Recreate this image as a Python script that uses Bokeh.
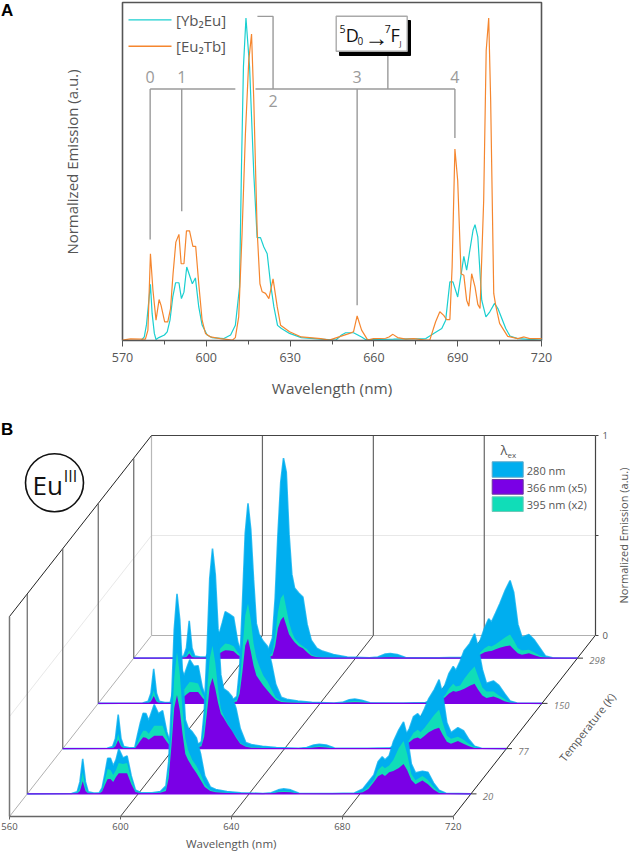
from math import pi
from bokeh.embed import file_html
from bokeh.resources import INLINE
from bokeh.plotting import figure
from bokeh.layouts import column
from bokeh.models import (Range1d, LinearAxis, FixedTicker, Label)
from bokeh.core.properties import value

FONT = "Open Sans"
TXT = "#555555"

# ---------- Panel A data ----------
yb2eu_x = [570,576.7,577.8,578.6,580,580.6,581.4,582,583,585,586,587,588,589,590.2,591.1,592,593,595,596.1,597.3,598.5,600.3,602,606.3,608.7,610.4,611.9,612.6,613.3,614.2,615.5,617,618.2,619.4,620.6,621.8,623,624.2,625.5,626.9,629.8,634,641,646.3,648.4,649.9,652.7,655.6,657,667,678.6,681.4,684.3,685.7,687.2,688.3,690,692.2,693.2,695.5,696.2,697.2,698.6,700.1,701.5,703.2,704.4,707.2,708.7,711.5,720]
yb2eu_y = [0,0,.011,.05,.174,.084,.022,.003,.009,.017,.027,.063,.135,.179,.179,.13,.15,.228,.176,.194,.104,.048,.017,.009,.006,.017,.047,.166,.54,.85,1.0,.847,.517,.319,.319,.29,.269,.176,.104,.047,.037,.022,.009,.004,.001,.017,.024,.024,.011,.003,.004,.006,.022,.037,.063,.182,.182,.135,.261,.218,.342,.359,.321,.125,.073,.089,.115,.099,.037,.014,.006,.001]
eu2tb_x = [570,572.9,576.4,578.2,579.1,580,580.9,582,583.1,583.8,585.1,586.2,587.2,588.1,589.1,590.2,591,592,592.9,594,595.2,596.2,597.3,598.5,599.7,601.5,605,609.3,610.4,611.6,612.8,614,615.2,616.2,617,618.2,619.2,620,621.2,622.4,623.9,625.4,626.6,629.8,634,641,644,651.3,652.7,654,655.6,657.8,659.9,664.2,665.4,666.8,668.5,671.4,674.2,678.6,680,682.1,683.6,685,686,687.2,688,689,690,691.2,692.2,693.2,694,695,696.2,697.2,698,699.3,700.2,701.1,701.8,702.9,703.6,705,706.5,707.9,711.5,713.8,715.8,720]
eu2tb_y = [.001,.005,.004,.004,.032,.269,.156,.063,.127,.109,.058,.058,.099,.207,.305,.329,.238,.238,.34,.34,.292,.292,.176,.063,.022,.011,.006,.001,.009,.073,.331,.64,.868,.95,.744,.342,.176,.151,.146,.13,.191,.104,.047,.027,.011,.006,.001,.022,.027,.076,.032,.001,.006,.007,.011,.019,.009,.004,.006,.001,.001,.058,.089,.078,.065,.065,.228,.594,.496,.207,.202,.125,.106,.207,.166,.112,.099,.434,.899,1.0,.744,.146,.109,.053,.032,.013,.006,.011,.006,.006]
a_ticks = [570,600,630,660,690,720]
a_minor = [585,615,645,675,705]
a_peaks_x = [579.9,591.2,654,689]
a_peaks_low = [.313,.401,.109,.628]
a_peak_names = ["0","1","3","4"]
a_series = ["[Yb₂Eu]","[Eu₂Tb]"]

# ---------- Panel B data ----------
wave = [560,576,578,579,580,581,582,584,586,
        587,588,589,590,591,592,593,594.5,596,597.5,599,601,
        605,608,610,611,612,613,614,615,616,617,618,619.5,621,622.5,624,626,628,632,637,
        645,648,650.5,652.5,655,658,
        670,678,681,683,685,686.5,688,689,690.5,692,694,695.7,697,698.5,700,702.5,704.5,706.5,708.5,711,720]
r20_280 = [0,.002,.01,.06,.175,.06,.01,.004,.006,
           .03,.1,.178,.178,.14,.17,.225,.18,.19,.09,.02,.006,
           .006,.012,.04,.16,.45,.82,1.0,.87,.6,.37,.33,.31,.28,.2,.09,.035,.022,.012,.006,
           .002,.006,.02,.025,.02,.003,
           .002,.004,.025,.06,.095,.16,.185,.17,.19,.26,.32,.36,.29,.15,.105,.113,.108,.055,.018,.003,0]
r20_395 = [0,0,.004,.03,.108,.03,.005,.002,.003,
           .02,.07,.125,.12,.095,.12,.155,.15,.155,.075,.015,.004,
           .004,.008,.025,.12,.3,.58,.71,.6,.42,.28,.22,.17,.14,.1,.05,.02,.012,.006,.003,
           .001,.003,.012,.015,.012,.002,
           .001,.003,.012,.035,.07,.12,.14,.128,.142,.17,.23,.265,.2,.1,.068,.09,.07,.035,.01,.002,0]
r20_366 = [0,0,.002,.015,.063,.015,.002,.001,.002,
           .012,.045,.075,.075,.06,.085,.103,.103,.103,.05,.01,.003,
           .003,.006,.015,.08,.24,.43,.495,.42,.3,.2,.17,.135,.105,.07,.035,.014,.008,.004,.002,
           .001,.002,.008,.01,.008,.001,
           .001,.002,.008,.025,.06,.088,.1,.09,.108,.115,.13,.15,.12,.07,.048,.067,.048,.022,.005,.001,0]
r77_280 = [0,.002,.01,.05,.17,.05,.01,.004,.006,
           .07,.13,.177,.175,.14,.18,.22,.175,.19,.085,.02,.006,
           .006,.012,.035,.18,.48,.85,1.0,.87,.6,.37,.3,.285,.26,.2,.1,.03,.02,.012,.006,
           .002,.006,.018,.022,.018,.003,
           .002,.004,.02,.05,.1,.16,.175,.157,.2,.25,.295,.345,.27,.13,.08,.105,.09,.045,.012,.002,0]
r77_395 = [0,0,.003,.02,.073,.02,.003,.001,.002,
           .03,.065,.09,.09,.075,.095,.115,.115,.115,.06,.012,.003,
           .003,.007,.02,.1,.28,.45,.515,.43,.3,.2,.165,.125,.09,.06,.03,.012,.008,.004,.002,
           .001,.003,.01,.013,.01,.002,
           .001,.003,.01,.025,.045,.08,.095,.082,.105,.132,.17,.195,.13,.065,.05,.06,.045,.023,.007,.001,0]
r77_366 = [0,0,.002,.012,.043,.012,.002,.001,.001,
           .02,.04,.057,.055,.045,.055,.065,.065,.065,.035,.008,.002,
           .002,.005,.012,.06,.18,.31,.353,.3,.23,.175,.155,.12,.09,.055,.025,.009,.005,.003,.001,
           .001,.002,.006,.008,.006,.001,
           .001,.002,.007,.018,.032,.05,.056,.048,.065,.082,.097,.105,.07,.035,.024,.038,.025,.012,.003,.001,0]
r150_280 = [0,.002,.01,.05,.173,.05,.01,.004,.006,
            .065,.125,.17,.17,.14,.18,.218,.185,.188,.08,.02,.006,
            .006,.012,.035,.18,.5,.85,1.0,.87,.62,.4,.345,.31,.285,.2,.095,.03,.02,.012,.006,
            .002,.005,.018,.022,.016,.003,
            .002,.004,.02,.05,.09,.15,.185,.165,.21,.265,.3,.348,.28,.17,.1,.112,.09,.05,.012,.002,0]
r150_395 = [0,0,.003,.018,.065,.018,.003,.001,.002,
            .025,.06,.085,.085,.07,.09,.107,.105,.1,.05,.012,.003,
            .003,.007,.02,.09,.27,.44,.5,.42,.3,.23,.19,.14,.11,.07,.03,.012,.008,.004,.002,
            .001,.003,.01,.012,.009,.002,
            .001,.003,.01,.025,.04,.075,.098,.085,.09,.123,.16,.185,.135,.08,.06,.06,.04,.022,.006,.001,0]
r150_366 = [0,0,.001,.01,.037,.01,.001,.001,.001,
            .013,.03,.045,.045,.035,.047,.057,.057,.057,.03,.006,.002,
            .002,.004,.01,.05,.16,.29,.323,.26,.19,.14,.12,.09,.065,.04,.018,.007,.004,.002,.001,
            .001,.002,.005,.006,.005,.001,
            .001,.002,.006,.015,.03,.05,.062,.058,.065,.073,.088,.098,.068,.04,.027,.035,.025,.011,.003,.001,0]
r298_280 = [0,.002,.01,.05,.187,.05,.01,.005,.006,
            .03,.075,.12,.13,.13,.18,.232,.22,.205,.08,.018,.006,
            .006,.02,.1,.3,.62,.88,1.0,.93,.62,.42,.35,.325,.305,.17,.09,.05,.035,.018,.006,
            .002,.006,.02,.023,.018,.003,
            .002,.004,.012,.04,.09,.15,.197,.18,.225,.272,.34,.388,.33,.17,.105,.118,.09,.05,.01,.002,0]
r298_395 = [0,0,.002,.012,.04,.012,.002,.001,.001,
            .012,.03,.042,.045,.045,.06,.073,.07,.06,.028,.007,.002,
            .002,.006,.025,.11,.23,.3,.32,.25,.18,.132,.1,.075,.06,.045,.018,.007,.004,.002,.001,
            .001,.002,.005,.007,.005,.001,
            .001,.002,.005,.012,.03,.05,.062,.058,.07,.085,.105,.118,.09,.05,.038,.042,.028,.012,.003,.001,0]
r298_366 = [0,0,.001,.006,.023,.006,.001,.001,.001,
            .006,.015,.023,.025,.025,.033,.04,.038,.035,.016,.004,.001,
            .001,.003,.012,.06,.15,.19,.207,.165,.12,.098,.08,.06,.05,.03,.012,.004,.002,.001,.001,
            .001,.001,.003,.004,.003,.001,
            .001,.001,.003,.008,.018,.03,.034,.036,.045,.052,.06,.063,.045,.025,.017,.025,.014,.006,.002,.001,0]
temps = ["298","150","77","20"]
depths = [.875,.625,.375,.125]
rows_280 = [r298_280,r150_280,r77_280,r20_280]
rows_395 = [r298_395,r150_395,r77_395,r20_395]
rows_366 = [r298_366,r150_366,r77_366,r20_366]
b_ticks = [560,600,640,680,720]
legend_names = ["280 nm","366 nm (x5)","395 nm (x2)"]

TEAL, ORANGE = "#1ACFD0", "#F5862E"
GRAYA = "#9a9a9a"
BLUE, PURPLE, MINT = "#00AEEF", "#7A00E6", "#10DDB8"

# ---------- Panel A : the frame fills the whole canvas, axes sit at a fixed place ----------
def ax_(px): return 570+(px-122)*150/419
def ay_(py): return (340-py)/322.5
a = figure(width=630, height=415, x_range=Range1d(ax_(0),ax_(630)), y_range=Range1d(ay_(415),ay_(0)),
           output_backend="svg", toolbar_location=None, frame_align=False,
           min_border=0, outline_line_color=None, background_fill_color="white")
a.grid.visible = False
a.yaxis.visible = False
ax = a.xaxis[0]
ax.fixed_location = 0
ax.bounds = (570,720)
ax.ticker = FixedTicker(ticks=a_ticks, minor_ticks=a_minor)
ax.major_label_text_font = FONT
ax.major_label_text_font_size = "12.5px"
ax.major_label_text_color = TXT
ax.major_label_standoff = 6
ax.axis_line_color = "#555555"
ax.axis_line_width = 1.4
ax.major_tick_line_color = "#555555"
ax.minor_tick_line_color = "#555555"
ax.major_tick_in = 0; ax.major_tick_out = 6
ax.minor_tick_in = 0; ax.minor_tick_out = 4

a_top = ay_(2)
a.line([570,570,720,720],[0,a_top,a_top,0],line_color="#555555",line_width=1.6)

def a_seg(xs, ys):
    a.line(xs, ys, line_color=GRAYA, line_width=1.4)

a_level = .78
a_seg([579.9,610.4],[a_level,a_level])
a_seg([617.6,689],[a_level,a_level])
for px_, low in zip(a_peaks_x, a_peaks_low):
    a_seg([px_,px_],[a_level,low])
a_seg([665,665],[a_level,.894])
a_seg([618.3,623.9,623.9],[1.005,1.005,a_level])
a.text(x=a_peaks_x, y=[a_level+.02]*4, text=a_peak_names, text_font=value(FONT), text_font_size="16px",
       text_color=GRAYA, text_align="center", text_baseline="bottom")
a.text(x=[623.9], y=[a_level-.018], text=["2"], text_font=value(FONT), text_font_size="16px",
       text_color=GRAYA, text_align="center", text_baseline="top")

a.line(yb2eu_x, yb2eu_y, line_color=TEAL, line_width=1.2)
a.line(eu2tb_x, eu2tb_y, line_color=ORANGE, line_width=1.2)

for name,color,py in zip(a_series,[TEAL,ORANGE],[19.4,45.7]):
    a.line([ax_(128),ax_(171)],[ay_(py),ay_(py)],line_color=color,line_width=1.4)
    a.text(x=[ax_(175.5)],y=[ay_(py)],text=[name],text_font=value(FONT),text_font_size="15px",
           text_color=TXT,text_align="left",text_baseline="middle")

# 5D0->7FJ box
a.quad(left=[ax_(339)],right=[ax_(410)],bottom=[ay_(55)],top=[ay_(20)],fill_color="black",line_color="black")
a.quad(left=[ax_(335.7)],right=[ax_(406.7)],bottom=[ay_(50.7)],top=[ay_(15.7)],fill_color="white",line_color="#aaaaaa",line_width=1.4)
for txt,px,py,sz in [("5",339,28,"10.5px"),("D",345.2,34.7,"18px"),("0",357,40.8,"10px"),("→",364,35.7,"24px"),
                     ("7",384.3,28,"10.5px"),("F",390,34.7,"18px"),("J",399,42,"7.5px")]:
    a.text(x=[ax_(px)],y=[ay_(py)],text=[txt],text_font=value(FONT),text_font_size=sz,text_color="#111111",
           text_align="left",text_baseline="middle")

def alabel(px,py,t,**kw):
    a.add_layout(Label(x=ax_(px),y=ay_(py),text=t,text_font=kw.pop("font",FONT),text_baseline="middle",**kw))
alabel(71,161.5,"Normalized Emission (a.u.)",angle=pi/2,text_font_size="15px",text_color=TXT,text_align="center")
alabel(331.5,387,"Wavelength (nm)",text_font_size="15.3px",text_color=TXT,text_align="center")
alabel(0.5,9.5,"A",font="Liberation Sans",text_font_style="bold",text_font_size="17px",text_color="black")

# ---------- Panel B ----------
PXNM = (452.7-9)/160
PXV = 200
DX = 142/PXNM     # nm shift across the depth
DY = 181/PXV      # value shift across the depth
def bx_(px): return 560+(px-9)/PXNM
def by_(py): return (816-py)/PXV
b = figure(width=630, height=436, x_range=Range1d(bx_(0),bx_(630)), y_range=Range1d(by_(851),by_(415)),
           output_backend="svg", toolbar_location=None, frame_align=False,
           min_border=0, outline_line_color=None, background_fill_color="white", y_axis_location=None)
b.grid.visible = False
b.extra_y_ranges = {"emission": Range1d(by_(851)-DY,by_(415)-DY)}

bx = b.xaxis[0]
bx.fixed_location = 0
bx.bounds = (560,720)
bx.ticker = FixedTicker(ticks=b_ticks)
bx.major_label_text_font = FONT
bx.major_label_text_font_size = "9.5px"
bx.major_label_text_color = TXT
bx.major_label_standoff = 3
bx.axis_line_color = "#666666"; bx.axis_line_width = 1.5
bx.major_tick_line_color = "#666666"; bx.major_tick_in = 0; bx.major_tick_out = 3
bx.minor_tick_line_color = None

ra = LinearAxis(y_range_name="emission", bounds=(0,1), ticker=FixedTicker(ticks=[0,.5,1]),
                fixed_location=bx_(595), major_label_overrides={0:"0",0.5:"",1:"1"},
                major_label_text_font=FONT, major_label_text_font_size="9.5px", major_label_text_color=TXT,
                major_label_standoff=4, axis_line_color="#444444", axis_line_width=1.2,
                major_tick_line_color="#444444", major_tick_in=0, major_tick_out=3, minor_tick_line_color=None)
ra.major_label_orientation = "horizontal"
b.add_layout(ra,"right")

def P(w, d, h):
    return w+d*DX, h+d*DY
def seg(p0, p1, color, width=1.0):
    b.line([p0[0],p1[0]],[p0[1],p1[1]],line_color=color,line_width=width)

# walls and floor
seg(P(560,0,.5),P(560,1,.5),"#e8e8e8")
seg(P(560,1,.5),P(720,1,.5),"#e8e8e8")
seg(P(560,0,0),P(560,1,0),"#b0b0b0")
seg(P(560,1,0),P(720,1,0),"#b0b0b0",1.2)
seg(P(560,1,0),P(560,1,1),"#b8b8b8",1.2)
for w in b_ticks[1:-1]:
    seg(P(w,1,0),P(w,1,1),"#666666",1.2)
    seg(P(w,0,0),P(w,1,0),"#333333",0.9)
seg(P(720,0,0),P(720,1,0),"#222222",1.0)
seg(P(560,0,0),P(560,0,1),"#777777",1.5)
seg(P(560,0,1),P(560,1,1),"#222222",1.0)
seg(P(560,1,1),P(720,1,1),"#444444",1.2)
for d in depths:
    seg(P(560,d,0),P(560,d,1),"#666666",1.2)

# waterfall rows (back to front)
for d,s280,s395,s366,t in zip(depths,rows_280,rows_395,rows_366,temps):
    xx = [w+d*DX for w in wave]
    base = [d*DY]*len(wave)
    b.varea(x=xx,y1=base,y2=[v+d*DY for v in s280],fill_color=BLUE)
    b.line(x=xx,y=[v+d*DY for v in s280],line_color=BLUE,line_width=1.6,line_alpha=.8)
    b.varea(x=xx,y1=base,y2=[v+d*DY for v in s395],fill_color=MINT)
    b.varea(x=xx,y1=base,y2=[v+d*DY for v in s366],fill_color=PURPLE)
    b.line(x=[xx[0],xx[-1]],y=[d*DY,d*DY],line_color=PURPLE,line_width=1.4)
    seg(P(720,d,0),P(722,d,0),"#333333",1.0)
    px,py = P(724.3,d,-.012)
    b.add_layout(Label(x=px,y=py,text=t,text_font=FONT,text_font_style="italic",text_font_size="9.5px",
                       text_color="#777777",text_baseline="middle"))

# legend of panel B, as swatches and texts
for name,fc,lc,t0,t1,ty in zip(legend_names,[BLUE,PURPLE,MINT],["#5fa8c8","#6a3a9a","#6fc8b8"],
                               [461.3,479,496.3],[476.7,493.7,511],[469.7,486.7,504]):
    b.quad(left=[bx_(491.7)],right=[bx_(522.7)],bottom=[by_(t1)],top=[by_(t0)],fill_color=fc,line_color=lc)
    b.text(x=[bx_(526.3)],y=[by_(ty)],text=[name],text_font=value(FONT),text_font_size="11px",text_color=TXT,
           text_align="left",text_baseline="middle")

def blabel(px,py,t,**kw):
    b.add_layout(Label(x=bx_(px),y=by_(py),text=t,text_font=kw.pop("font",FONT),text_baseline="middle",**kw))
blabel(0.5,429,"B",font="Liberation Sans",text_font_style="bold",text_font_size="17px",text_color="black")
blabel(500,449,"λ",text_font_size="13px",text_color=TXT)
blabel(507,454,"ex",text_font_size="8px",text_color=TXT)
blabel(32,484.5,"Eu",text_font_size="26px",text_color="#111111")
blabel(63.3,475,"III",text_font_size="16px",text_color="#111111")
b.circle(x=[bx_(54)],y=[by_(482.3)],radius=29/PXNM,fill_color=None,line_color="#111111",line_width=1.6)
blabel(586.7,726.7,"Temperature (K)",text_font_size="11px",text_color=TXT,angle=0.906,text_align="center")
blabel(622.7,535,"Normalized Emission (a.u.)",text_font_size="11px",text_color=TXT,angle=pi/2,text_align="center")
blabel(230.7,843,"Wavelength (nm)",text_font_size="11.5px",text_color=TXT,text_align="center")

page = column(a,b,spacing=0,styles={"position":"absolute","left":"0px","top":"0px"})
open("out.html","w").write(file_html(page,INLINE))
